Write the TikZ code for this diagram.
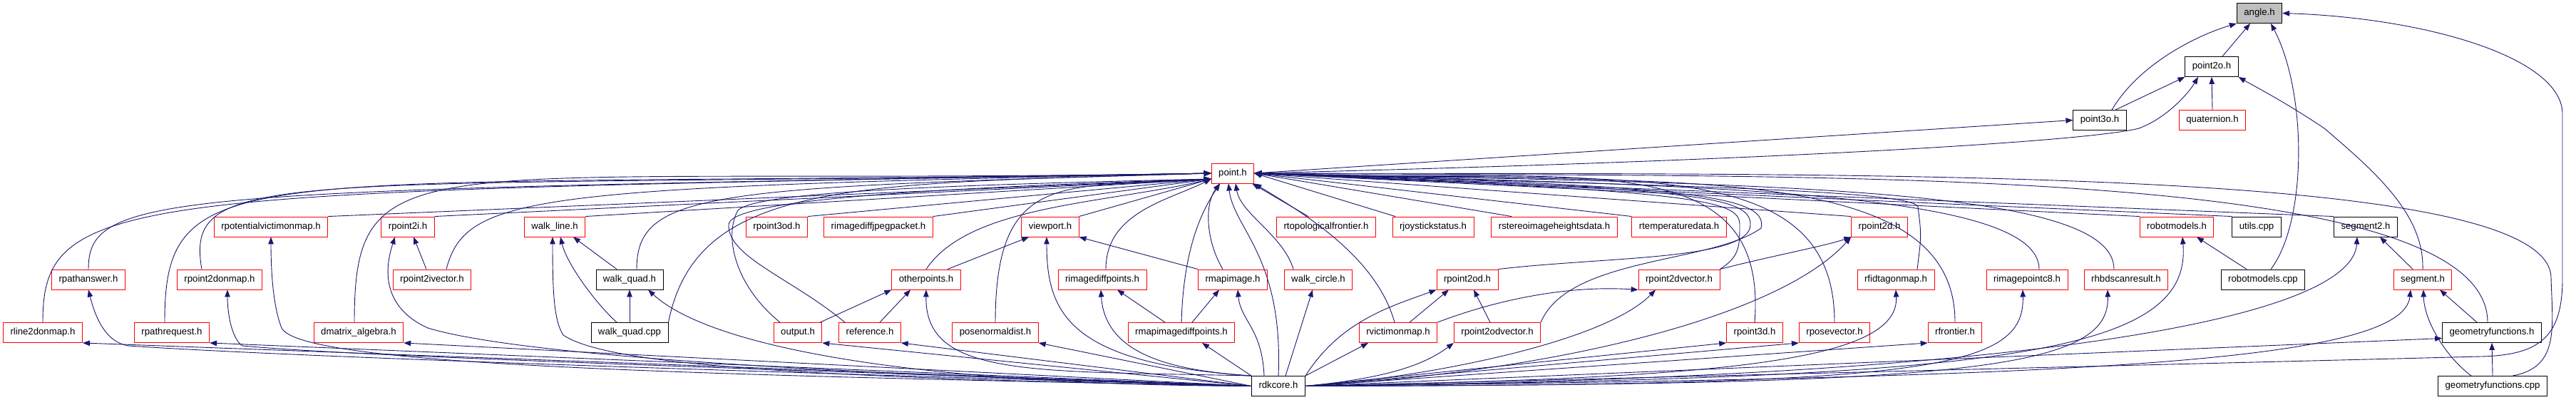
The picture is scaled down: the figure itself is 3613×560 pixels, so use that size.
\documentclass[tikz,border=0pt]{standalone}
\usepackage{fontspec}
\usetikzlibrary{arrows.meta}
\newfontfamily\lsfam{Liberation Sans}
\newcommand\lsf{\lsfam\fontsize{13.2}{15}\selectfont}
\definecolor{eblue}{HTML}{191970}
\definecolor{ngray}{HTML}{BFBFBF}
\tikzset{
  ln/.style={draw=eblue, line width=0.9pt, -{Triangle[length=10pt,width=7.5pt]}},
  fb/.style={draw=black, line width=0.9pt, fill=white, inner xsep=10pt, inner ysep=0pt,
             minimum height=28pt, text height=9.6pt, text depth=2.8pt, font=\lsf},
  fr/.style={fb, draw=red},
  fg/.style={fb, fill=ngray}
}
\begin{document}
\begin{tikzpicture}[x=1pt,y=1pt]
\fill[white] (0,0) rectangle (3613,560);
\useasboundingbox (0,0) rectangle (3613,560);
% ---- nodes
\node[fg] (angle) at (3169,541.5) {angle.h};
\node[fb] (p2o) at (3102,466.5) {point2o.h};
\node[fb] (p3o) at (2945,391.5) {point3o.h};
\node[fr] (quat) at (3103,391.5) {quaternion.h};
\node[fr] (point) at (1729,317) {point.h};
% row 4
\node[fr] (rpvm) at (380,242) {rpotentialvictimonmap.h};
\node[fr] (rp2i) at (572,242) {rpoint2i.h};
\node[fr] (wline) at (778,242) {walk\_line.h};
\node[fr] (rp3od) at (1089.5,242) {rpoint3od.h};
\node[fr] (ridjp) at (1232,242) {rimagediffjpegpacket.h};
\node[fr] (vp) at (1473,242) {viewport.h};
\node[fr] (rtopo) at (1860,242) {rtopologicalfrontier.h};
\node[fr] (rjoy) at (2010,242) {rjoystickstatus.h};
\node[fr] (rstereo) at (2180,242) {rstereoimageheightsdata.h};
\node[fr] (rtemp) at (2355,242) {rtemperaturedata.h};
\node[fr] (rp2d) at (2636,242) {rpoint2d.h};
\node[fr] (robm) at (3053,242) {robotmodels.h};
\node[fb] (utils) at (3165,242) {utils.cpp};
\node[fb] (seg2) at (3318,242) {segment2.h};
% row 5
\node[fr] (rpa) at (124,168) {rpathanswer.h};
\node[fr] (rp2dom) at (308,168) {rpoint2donmap.h};
\node[fr] (rp2iv) at (606,168) {rpoint2ivector.h};
\node[fb] (wquad) at (883,168) {walk\_quad.h};
\node[fr] (other) at (1299,168) {otherpoints.h};
\node[fr] (ridp) at (1546,168) {rimagediffpoints.h};
\node[fr] (rmi) at (1729,168) {rmapimage.h};
\node[fr] (wcirc) at (1849,168) {walk\_circle.h};
\node[fr] (rp2od) at (2058,168) {rpoint2od.h};
\node[fr] (rp2dv) at (2355,168) {rpoint2dvector.h};
\node[fr] (rfid) at (2659,168) {rfidtagonmap.h};
\node[fr] (ric8) at (2843,168) {rimagepointc8.h};
\node[fr] (rhbd) at (2982,168) {rhbdscanresult.h};
\node[fb] (robcpp) at (3174,168) {robotmodels.cpp};
\node[fr] (seg) at (3398,168) {segment.h};
% row 6
\node[fr] (rl2d) at (60,93.5) {rline2donmap.h};
\node[fr] (rpr) at (241,93.5) {rpathrequest.h};
\node[fr] (dmat) at (503,93.5) {dmatrix\_algebra.h};
\node[fb] (wqcpp) at (883,93.5) {walk\_quad.cpp};
\node[fr] (out) at (1119,93.5) {output.h};
\node[fr] (ref) at (1220,93.5) {reference.h};
\node[fr] (pnd) at (1396,93.5) {posenormaldist.h};
\node[fr] (rmidp) at (1657,93.5) {rmapimagediffpoints.h};
\node[fr] (rvm) at (1961,93.5) {rvictimonmap.h};
\node[fr] (rp2odv) at (2100,93.5) {rpoint2odvector.h};
\node[fr] (rp3d) at (2461,93.5) {rpoint3d.h};
\node[fr] (rpv) at (2573,93.5) {rposevector.h};
\node[fr] (rfr) at (2742,93.5) {rfrontier.h};
\node[fb] (gfh) at (3495,93.5) {geometryfunctions.h};
% row 7
\node[fb] (rdk) at (1793,18.5) {rdkcore.h};
\node[fb] (gfcpp) at (3496,18.5) {geometryfunctions.cpp};

% ---- top part
\draw[ln] ([xshift=17pt]p3o.north) .. controls (3000,470) and (3080,510) .. (angle.south west);
\draw[ln] ([xshift=15pt]p2o.north) -- ([xshift=-13pt]angle.south);
\draw[ln] ([xshift=11pt]robcpp.north) .. controls (3236,250) and (3236,430) .. ([xshift=16pt]angle.south);
\draw[ln] (rdk.east) -- (3480,60) .. controls (3565,62) and (3594,90) .. (3594,170) -- (3594,400) .. controls (3594,480) and (3400,535) .. (angle.east);
\draw[ln] (quat.north) -- (p2o.south);
\draw[ln] ([xshift=22pt]p3o.north) -- (p2o.south west);
\draw[ln] (point.east) -- (p3o.west);
\draw[ln] (point.east) .. controls (2500,335) and (2930,362) .. (3000,380) .. controls (3040,395) and (3070,430) .. ([xshift=-19pt]p2o.south);
\draw[ln] (seg.north) .. controls (3400,260) and (3330,320) .. (3260,380) .. controls (3200,420) and (3160,440) .. (p2o.south east);

% ---- into point.h, from the left
\draw[ln] (rpa.north) .. controls +(0,110) and +(-1460,-25) .. (point.west);
\draw[ln] ([xshift=-25pt]rp2dom.north) .. controls +(-26,148) and +(-1294,-23) .. (point.west);
\draw[ln] ([xshift=20pt]rp2iv.north) .. controls +(28,106) and +(-950,-20) .. (point.west);
\draw[ln] ([xshift=10pt]wquad.north) .. controls +(0,110) and +(-700,-20) .. (point.west);
\draw[ln] (rl2d.north) .. controls +(0,185) and +(-1524,-27) .. (point.west);
\draw[ln] ([xshift=-10pt]rpr.north) .. controls +(0,240) and +(-1356,-24) .. (point.west);
\draw[ln] ([xshift=-6pt]dmat.north) .. controls +(0,260) and +(-1112,-19) .. (point.west);
\draw[ln] (wqcpp.north east) .. controls +(40,200) and +(-500,-15) .. (point.west);
\draw[ln] (rpvm.north east) -- ([yshift=-8pt]point.west);
\draw[ln] (rp2i.north east) -- ([yshift=-8pt]point.west);
\draw[ln] (wline.north east) -- ([yshift=-8pt]point.west);
\draw[ln] (rp3od.north east) -- ([yshift=-8pt]point.west);
\draw[ln] (ridjp.north east) -- ([yshift=-8pt]point.west);
\draw[ln] (vp.north east) -- ([yshift=-8pt]point.west);
\draw[ln] (other.north) .. controls +(60,90) and +(-150,-35) .. ([yshift=-8pt]point.west);
\draw[ln] ([xshift=5pt]ridp.north) .. controls +(0,80) and +(-60,-30) .. ([yshift=-8pt]point.west);
\draw[ln] ([xshift=-25pt]out.north) .. controls (1030,160) and (1015,230) .. (1035,265) .. controls (1060,290) and (1300,300) .. ([yshift=-8pt]point.west);
\draw[ln] ([xshift=-35pt]ref.north) .. controls (1110,170) and (1020,200) .. (1022,245) .. controls (1024,280) and (1300,296) .. ([yshift=-8pt]point.west);
\draw[ln] (pnd.north) .. controls +(0,220) and +(-200,-15) .. ([yshift=-8pt]point.west);
% from below
\draw[ln] (rmidp.north) .. controls (1660,220) and (1690,270) .. ([xshift=-18pt]point.south);
\draw[ln] ([xshift=-14pt]rmi.north) .. controls (1690,225) and (1690,275) .. ([xshift=-18pt]point.south);
\draw[ln] (rdk.north) .. controls (1800,200) and (1730,240) .. ([xshift=-6pt]point.south);
\draw[ln] ([xshift=-35pt]wcirc.north) .. controls (1800,230) and (1740,260) .. ([xshift=4pt]point.south);
% from the right
\draw[ln] ([xshift=-25pt]rtopo.north) -- ([xshift=-3pt]point.south east);
\draw[ln] ([xshift=-53pt]rjoy.north) -- (point.east);
\draw[ln] ([xshift=-60pt]rstereo.north) -- (point.east);
\draw[ln] (rtemp.north west) -- (point.east);
\draw[ln] (rp2d.north west) -- (point.east);
\draw[ln] (robm.north west) -- (point.east);
\draw[ln] (utils.north west) -- (point.east);
\draw[ln] (seg2.north west) -- (point.east);
\draw[ln] (rp2od.north east) .. controls (2250,200) and (2455,195) .. (2455,245) .. controls (2455,285) and (2380,296) .. (point.east);
\draw[ln] (rp2dv.north east) .. controls (2440,200) and (2440,215) .. (2440,245) .. controls (2440,280) and (2380,292) .. (point.east);
\draw[ln] (rp2odv.north east) .. controls (2200,200) and (2400,190) .. (2470,240) .. controls (2480,285) and (2380,300) .. (point.east);
\draw[ln] ([xshift=-5pt]rvm.north) .. controls (1930,200) and (1830,260) .. (point.south east);
\draw[ln] (rp3d.north) .. controls +(20,260) and +(441,-17) .. (point.east);
\draw[ln] (rpv.north) .. controls +(0,250) and +(491,-17) .. (point.east);
\draw[ln] (rfr.north) .. controls +(0,240) and +(541,-19) .. (point.east);
\draw[ln] ([xshift=30pt]rfid.north) .. controls (2695,230) .. (2690,270) .. controls (2680,295) and (2300,300) .. (point.east);
\draw[ln] ([xshift=17pt]ric8.north) .. controls +(0,110) and +(641,-17) .. (point.east);
\draw[ln] ([xshift=-17pt]rhbd.north) .. controls +(0,115) and +(741,-15) .. (point.east);
\draw[ln] ([xshift=-6pt]gfh.north) .. controls +(0,230) and +(741,-7) .. (point.east);
\draw[ln] ([xshift=28pt]gfcpp.north) .. controls (3590,45) and (3580,100) .. (3578,170) .. controls (3578,330) and (2600,315) .. (point.east);

% ---- rdkcore.h
\draw[ln] (rdk.west) -- (rl2d.south east);
\draw[ln] (rdk.west) -- (rpr.south east);
\draw[ln] (rdk.west) -- (dmat.south east);
\draw[ln] (rdk.west) -- (out.south east);
\draw[ln] (rdk.west) -- (ref.south east);
\draw[ln] (rdk.west) -- (pnd.south east);
\draw[ln] (rdk.north west) -- ([xshift=29pt]rmidp.south);
\draw[ln] (rdk.west) .. controls (1000,40) and (400,60) .. (180,75) .. controls (150,80) and (135,110) .. (rpa.south);
\draw[ln] (rdk.west) .. controls (1000,45) and (500,60) .. (340,75) .. controls (325,85) and (319,120) .. ([xshift=11pt]rp2dom.south);
\draw[ln] (rdk.west) .. controls (1300,20) and (1000,70) .. ([xshift=26pt]wquad.south);
\draw[ln] (rdk.north west) .. controls (1450,40) and (1297,30) .. (other.south);
\draw[ln] (rdk.north west) .. controls (1650,40) and (1550,60) .. ([xshift=-2pt]ridp.south);
\draw[ln] ([xshift=-20pt]rdk.north) .. controls (1770,100) and (1740,110) .. ([xshift=7pt]rmi.south);
\draw[ln] (rdk.west) .. controls (900,35) and (420,50) .. (395,100) .. controls (383,130) and (380,180) .. (rpvm.south);
\draw[ln] (rdk.west) .. controls (1000,40) and (700,70) .. (600,100) .. controls (545,125) and (535,170) .. ([xshift=-18pt]rp2i.south);
\draw[ln] (rdk.west) .. controls (1100,30) and (850,50) .. (790,90) .. controls (777,110) and (775,150) .. ([xshift=-3pt]wline.south);
\draw[ln] (rdk.north west) .. controls (1500,50) and (1468,120) .. ([xshift=-5pt]vp.south);
\draw[ln] (rdk.north east) -- ([xshift=-42pt]rvm.south);
\draw[ln] (rdk.north east) .. controls (1880,110) and (1950,130) .. (rp2od.south west);
\draw[ln] (rdk.east) .. controls (1950,30) and (2000,50) .. (rp2odv.south west);
\draw[ln] (rdk.east) .. controls (2000,30) and (2250,80) .. ([xshift=-33pt]rp2dv.south);
\draw[ln] (rdk.east) .. controls (2200,40) and (2500,120) .. (rp2d.south west);
\draw[ln] (rdk.east) -- (rp3d.south west);
\draw[ln] (rdk.east) -- (rpv.south west);
\draw[ln] (rdk.east) -- (rfr.south west);
\draw[ln] (rdk.east) -- ([yshift=-8pt]gfh.west);
\draw[ln] (rdk.east) .. controls (2400,30) and (2665,50) .. (rfid.south);
\draw[ln] (rdk.east) .. controls (2700,20) and (2840,40) .. ([xshift=-6pt]ric8.south);
\draw[ln] (rdk.east) .. controls (2750,20) and (2960,40) .. ([xshift=-26pt]rhbd.south);
\draw[ln] (rdk.east) .. controls (2900,30) and (3370,50) .. ([xshift=-17pt]seg.south);
\draw[ln] (rdk.east) .. controls (2800,30) and (3075,60) .. ([xshift=8pt]robm.south);
\draw[ln] (rdk.east) .. controls (2900,30) and (3300,120) .. ([xshift=-12pt]seg2.south);
\draw[ln] ([xshift=10pt]rdk.north) -- ([xshift=-8pt]wcirc.south);

% ---- other edges
\draw[ln] ([xshift=-8pt]rp2iv.north) -- ([xshift=8pt]rp2i.south);
\draw[ln] ([xshift=-18pt]wquad.north) -- ([xshift=26pt]wline.south);
\draw[ln] ([xshift=-18pt]wqcpp.north) .. controls (835,135) and (795,190) .. ([xshift=8pt]wline.south);
\draw[ln] (wqcpp.north) -- (wquad.south);
\draw[ln] ([xshift=30pt]other.north) -- ([xshift=-30pt]vp.south);
\draw[ln] ([xshift=-3pt]out.north east) -- (other.south west);
\draw[ln] ([xshift=14pt]ref.north) -- ([xshift=-22pt]other.south);
\draw[ln] ([xshift=-23pt]rmidp.north) -- ([xshift=21pt]ridp.south);
\draw[ln] ([xshift=15pt]rmidp.north) -- ([xshift=-19pt]rmi.south);
\draw[ln] (rmi.north west) -- (vp.south east);
\draw[ln] ([xshift=16pt]rvm.north) -- ([xshift=-26pt]rp2od.south);
\draw[ln] (rvm.north east) .. controls (2100,140) and (2200,160) .. (rp2dv.south west);
\draw[ln] ([xshift=-10pt]rp2odv.north) -- ([xshift=9pt]rp2od.south);
\draw[ln] (rp2dv.north east) .. controls (2480,200) and (2560,215) .. (rp2d.south west);
\draw[ln] ([xshift=-23pt]robcpp.north) -- ([xshift=28pt]robm.south);
\draw[ln] ([xshift=-14pt]seg.north) -- ([xshift=20pt]seg2.south);
\draw[ln] ([xshift=-21pt]gfh.north) -- ([xshift=24pt]seg.south);
\draw[ln] ([xshift=-30pt]gfcpp.north) .. controls (3430,60) and (3400,110) .. ([xshift=1pt]seg.south);
\draw[ln] (gfcpp.north) -- (gfh.south);
\end{tikzpicture}
\end{document}
